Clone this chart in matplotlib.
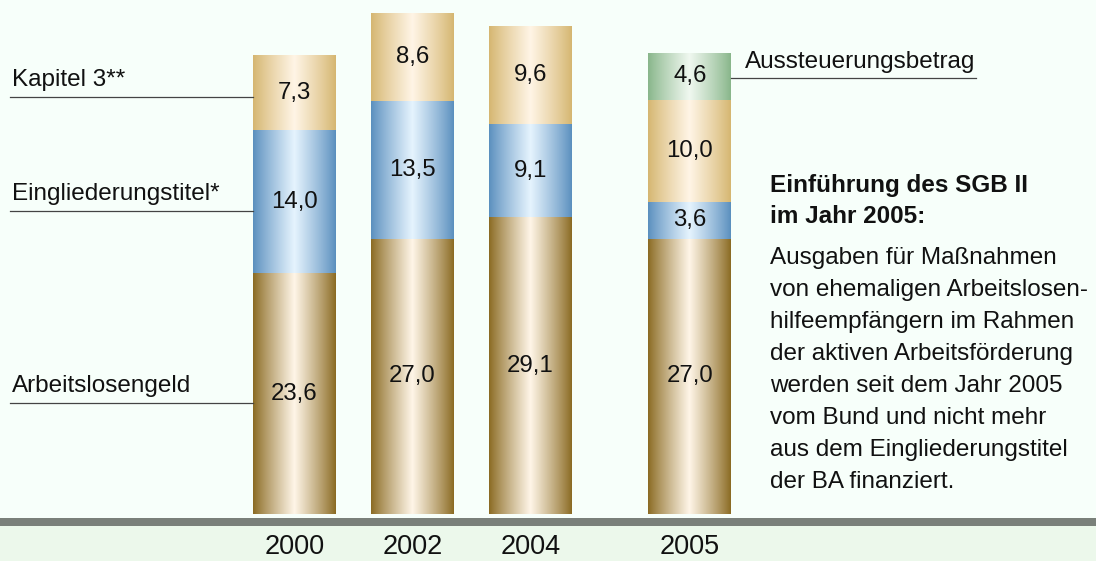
import numpy as np
from matplotlib import pyplot as plt
from matplotlib.colors import to_rgb

years = ['2000', '2002', '2004', '2005']
arbeitslosengeld = [23.6, 27.0, 29.1, 27.0]
eingliederung = [14.0, 13.5, 9.1, 3.6]
kapitel3 = [7.3, 8.6, 9.6, 10.0]
aussteuerung = [0, 0, 0, 4.6]

positions = [0, 1, 2, 3.35]
width = 0.70

info_lines = ['Einführung des SGB II', 'im Jahr 2005:',
              'Ausgaben für Maßnahmen', 'von ehemaligen Arbeitslosen-',
              'hilfeempfängern im Rahmen', 'der aktiven Arbeitsförderung',
              'werden seit dem Jahr 2005', 'vom Bund und nicht mehr',
              'aus dem Eingliederungstitel', 'der BA finanziert.']

# (edge colour, centre colour) of the cylinder gradient
styles = {
    'alg': ('#8a6a22', '#fff6e8'),
    'eg': ('#5a8fbe', '#e6f4fe'),
    'k3': ('#d5b670', '#fff5e6'),
    'aus': ('#88b68a', '#f0f8f0'),
}

plt.rcParams['font.family'] = ['Liberation Sans', 'DejaVu Sans']
bg = '#f7fffa'
fig = plt.figure(figsize=(10.96, 5.61), dpi=100, facecolor=bg)
ax = fig.add_axes([0, 0, 1, 1])
ax.set_facecolor(bg)
ax.axis('off')

px_per_unit = 10.2
base_px = 514
ylo = -(561 - base_px) / px_per_unit
yhi = base_px / px_per_unit
xlo = -294.5 / 118
xhi = (1096 - 294.5) / 118


def gradient(edge, centre, n=200):
    u = np.linspace(0, 1, n)
    t = (1 - np.abs(2 * u - 1)) ** 0.9
    e = np.array(to_rgb(edge))
    c = np.array(to_rgb(centre))
    return (e + (c - e) * t[:, None])[None, :, :]


def seg(x, bottom, h, key):
    if h <= 0:
        return
    img = gradient(*styles[key])
    ax.imshow(img, extent=[x - width / 2, x + width / 2, bottom, bottom + h],
              aspect='auto', interpolation='bilinear', zorder=2)


for i, x in enumerate(positions):
    b = 0
    for key, vals in [('alg', arbeitslosengeld), ('eg', eingliederung),
                      ('k3', kapitel3), ('aus', aussteuerung)]:
        v = vals[i]
        seg(x, b, v, key)
        if v > 0:
            ax.text(x, b + v / 2, f'{v:.1f}'.replace('.', ','), ha='center',
                    va='center', fontsize=17.3, color='#111111', zorder=3)
        b += v

# bottom band
ax.axhspan(ylo, -12 / px_per_unit, color='#ecf8eb', zorder=1, lw=0)
ax.axhspan(-12 / px_per_unit, -4 / px_per_unit, color='#7a807a', zorder=1, lw=0)
for x, yr in zip(positions, years):
    ax.text(x, -33 / px_per_unit, yr, ha='center', va='center',
            fontsize=19.5, color='#111111')

# series labels on the left (2000 bar)
line_x0 = xlo + 10 / 118
bar_left = positions[0] - width / 2
mids = [arbeitslosengeld[0] / 2,
        arbeitslosengeld[0] + eingliederung[0] / 2,
        arbeitslosengeld[0] + eingliederung[0] + kapitel3[0] / 2]
offsets = [-0.9, -0.9, -0.35]
for name, m, off in zip(['Arbeitslosengeld', 'Eingliederungstitel*', 'Kapitel 3**'],
                        mids, offsets):
    ly = m + off
    ax.plot([line_x0, bar_left], [ly, ly], color='#444444', lw=0.9, zorder=2)
    ax.text(xlo + 12 / 118, ly + 1.05, name, ha='left', va='baseline',
            fontsize=17.5, color='#111111')

# Aussteuerungsbetrag label on 2005 bar
top05 = arbeitslosengeld[3] + eingliederung[3] + kapitel3[3]
ly = top05 + aussteuerung[3] / 2 - 0.2
bar_right = positions[3] + width / 2
ax.plot([bar_right, xlo + 976 / 118], [ly, ly], color='#444444', lw=0.9)
ax.text(xlo + 745 / 118, ly + 1.0, 'Aussteuerungsbetrag', ha='left',
        va='baseline', fontsize=17.5, color='#111111')

# explanatory text
ys = [185, 217, 258, 290, 322, 354, 386, 418, 450, 482]
for k, (line, py) in enumerate(zip(info_lines, ys)):
    fig.text(770 / 1096, 1 - py / 561, line, ha='left', va='center',
             fontsize=17.5, fontweight='bold' if k < 2 else 'normal',
             color='#111111')

ax.set_xlim(xlo, xhi)
ax.set_ylim(ylo, yhi)
fig.savefig('out.png', dpi=100, facecolor=bg)
